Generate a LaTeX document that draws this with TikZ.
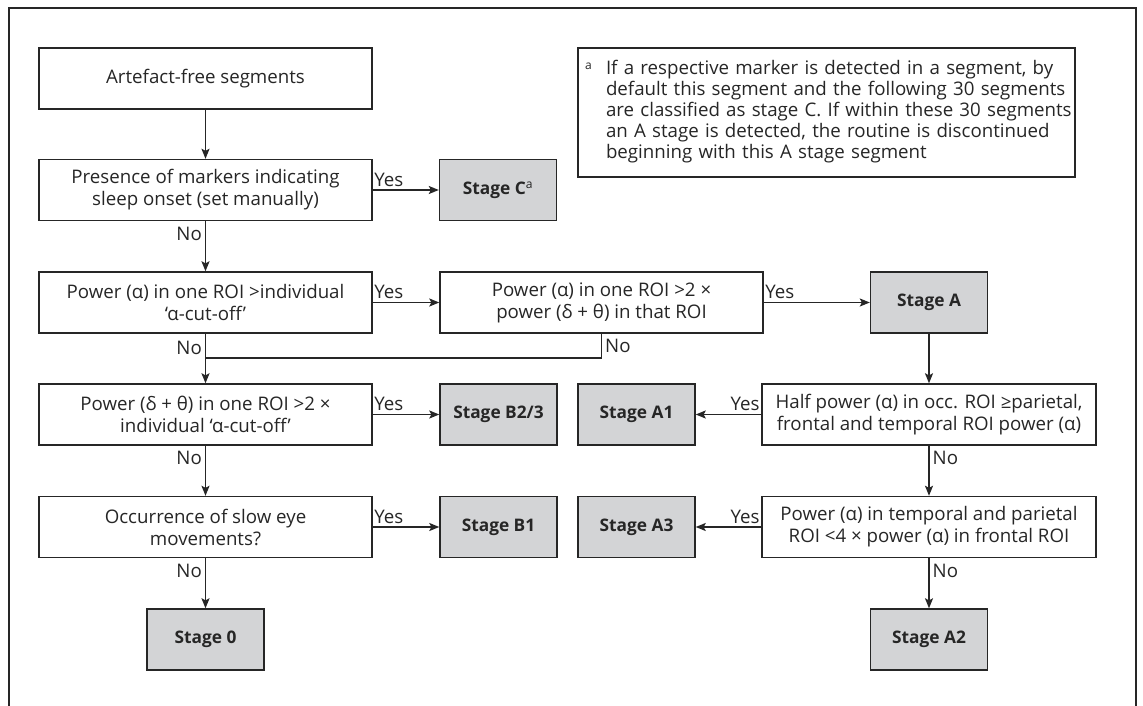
\documentclass[tikz,border=0pt]{standalone}
\usepackage{fontspec}
\setmainfont{Open Sans}
\usetikzlibrary{positioning,arrows.meta}
\tikzset{>={Stealth[length=10pt,width=8pt,inset=2pt]}}
\colorlet{lineclr}{black!85}
\definecolor{stagefill}{HTML}{D3D4D6}

\begin{document}
\begin{tikzpicture}[x=1pt,y=-1pt,
    font=\fontsize{18.7}{22}\selectfont,
    line width=1.4pt, draw=lineclr, text=black!85,
test/.style = {
    draw=lineclr, line width=1.4pt,
    minimum width=333pt, minimum height=61pt,
    align=center, inner sep=2pt,
                            },
stagebox/.style = {
    test, fill=stagefill,
    minimum width=117pt,
    font=\fontsize{17.3}{21}\selectfont\bfseries,
                            },
flow/.style = {->, draw=lineclr, line width=1.4pt},
yes/.style = {above right, inner sep=1pt, yshift=2pt},
yesl/.style = {above left, inner sep=1pt, yshift=2pt},
no/.style = {left, inner sep=3pt},
                    ]
\useasboundingbox (0,0) rectangle (1143,706);
\draw[lineclr] (9,706) -- (9,8) -- (1136,8) -- (1136,706);

% left column
\node[test] (art)  at (205.5,78.5) {Artefact-free segments};
\node[test] (pres) at (205.5,190)  {Presence of markers indicating\\sleep onset (set manually)};
\node[test] (pwa)  at (205.5,302.5) {Power (α) in one ROI >individual\\‘α-cut-off’};
\node[test] (pwd)  at (205.5,414.5) {Power (δ + θ) in one ROI >2 ×\\individual ‘α-cut-off’};
\node[test] (occ)  at (205.5,527)  {Occurrence of slow eye\\movements?};
\node[stagebox] (st0) at (205.5,639.5) {Stage 0};

% middle column
\node[stagebox] (stc)  at (498,190)    {Stage C\textsuperscript{\mdseries a}};
\node[test, minimum width=323pt] (pwr) at (601.5,302.5)
    {Power (α) in one ROI >2 ×\\power (δ + θ) in that ROI};
\node[stagebox] (stb23) at (498.5,414.5) {Stage B2/3};
\node[stagebox] (stb1)  at (498.5,527)   {Stage B1};
\node[stagebox] (sta1)  at (636.5,414.5) {Stage A1};
\node[stagebox] (sta3)  at (636.5,527)   {Stage A3};

% right column
\node[stagebox] (sta)  at (929,302.5) {Stage A};
\node[test, minimum width=334pt] (half) at (929,414.5)
    {Half power (α) in occ. ROI ≥parietal,\\frontal and temporal ROI power (α)};
\node[test, minimum width=334pt] (tmp)  at (929,527)
    {Power (α) in temporal and parietal\\ROI <4 × power (α) in frontal ROI};
\node[stagebox] (sta2) at (929,639.5) {Stage A2};

% footnote
\node[test, minimum width=497pt, minimum height=129pt,
      text width=483pt, inner xsep=7pt, align=left] (note) at (826.5,112.5)
    {\begin{tabular}{@{}p{21pt}@{}l@{}}
     \raisebox{5pt}{\fontsize{12}{12}\selectfont a}
       & If a respective marker is detected in a segment, by\\[-1pt]
       & default this segment and the following 30 segments\\[-1pt]
       & are classified as stage C. If within these 30 segments\\[-1pt]
       & an A stage is detected, the routine is discontinued\\[-1pt]
       & beginning with this A stage segment
     \end{tabular}};

\coordinate (join) at (205.5,358);

\draw[flow] (art) -- (pres);
\draw[flow] (pres) -- node[no, pos=0.25] {No} (pwa);
\draw[flow] (pwa) -- node[no, pos=0.28] {No} (pwd);
\draw[flow] (pwd) -- node[no, pos=0.25] {No} (occ);
\draw[flow] (occ) -- node[no, pos=0.25] {No} (st0);
\draw (pwr.south) -- node[right, inner sep=3pt, pos=0.5] {No} (pwr.south |- join) -- (join);

\draw[flow] (pres) -- (stc) node[yes, pos=0] {Yes};
\draw[flow] (pwa) -- (pwr) node[yes, pos=0] {Yes};
\draw[flow] (pwr) -- (sta) node[yes, pos=0] {Yes};
\draw[flow] (pwd) -- (stb23) node[yes, pos=0] {Yes};
\draw[flow] (occ) -- (stb1) node[yes, pos=0] {Yes};

\draw[flow] (sta) -- (half);
\draw[flow] (half) -- (sta1) node[yesl, pos=0] {Yes};
\draw[flow] (tmp) -- (sta3) node[yesl, pos=0] {Yes};
\draw[flow] (half) -- node[right, inner sep=3pt, pos=0.25] {No} (tmp);
\draw[flow] (tmp) -- node[right, inner sep=3pt, pos=0.25] {No} (sta2);
\end{tikzpicture}
\end{document}
